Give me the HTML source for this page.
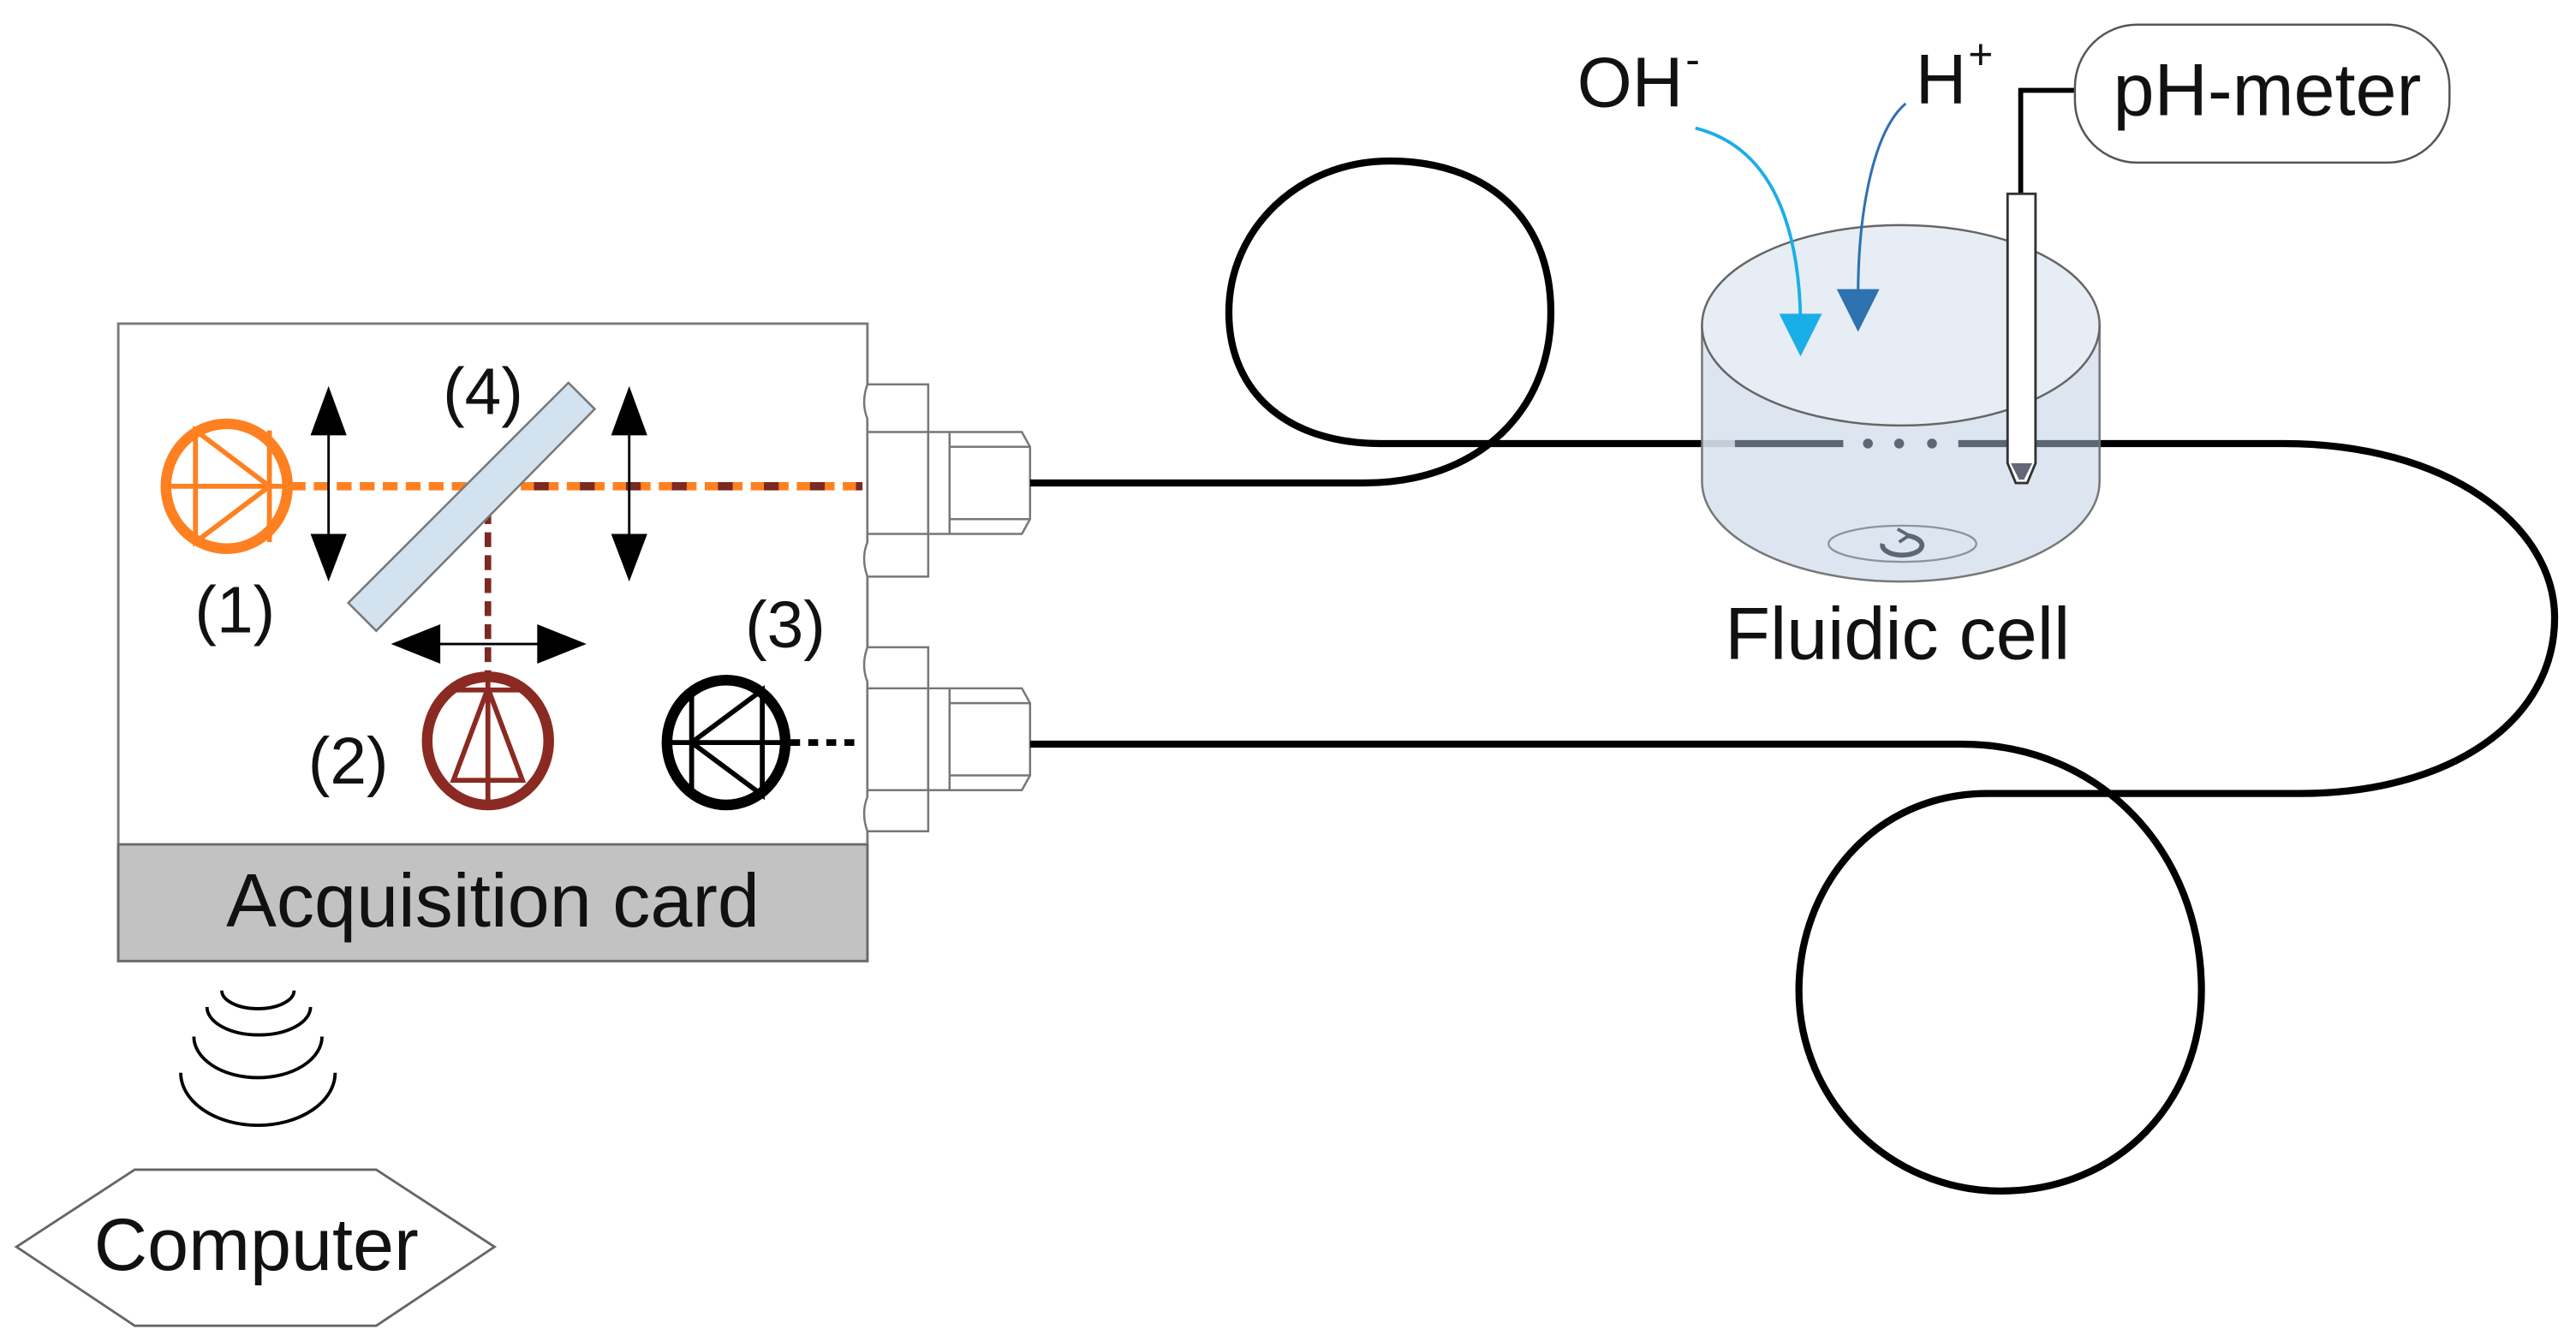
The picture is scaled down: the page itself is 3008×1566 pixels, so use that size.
<!DOCTYPE html>
<html><head><meta charset="utf-8"><style>
html,body{margin:0;padding:0;background:#fff;}
svg{display:block;}
text{font-family:"Liberation Sans",Arial,sans-serif;fill:#111;}
</style></head><body>
<svg width="3008" height="1566" viewBox="0 0 1568 816.3" preserveAspectRatio="none" xmlns="http://www.w3.org/2000/svg">
<rect x="72" y="197" width="456" height="388" fill="#fff" stroke="#7a7a7a" stroke-width="1.5"/>
<rect x="72" y="514" width="456" height="71" fill="#c2c2c2" stroke="#6a6a6a" stroke-width="1.5"/>
<text x="300" y="564" font-size="46" text-anchor="middle">Acquisition card</text>

<g fill="#fff" stroke="#777" stroke-width="1.3">
 <path d="M528 234 L565 234 L565 351 L528 351 Q524 340 528 330 L528 255 Q524 245 528 234 Z"/>
 <line x1="528" y1="263" x2="565" y2="263"/><line x1="528" y1="325" x2="565" y2="325"/>
 <path d="M565 263 L622 263 L627 272 L627 316 L622 325 L565 325 Z"/>
 <line x1="578" y1="263" x2="578" y2="325"/><line x1="578" y1="272" x2="627" y2="272"/><line x1="578" y1="316" x2="627" y2="316"/>
 <path d="M528 394 L565 394 L565 506 L528 506 Q524 495 528 485 L528 415 Q524 405 528 394 Z"/>
 <line x1="528" y1="419" x2="565" y2="419"/><line x1="528" y1="481" x2="565" y2="481"/>
 <path d="M565 419 L622 419 L627 428 L627 472 L622 481 L565 481 Z"/>
 <line x1="578" y1="419" x2="578" y2="481"/><line x1="578" y1="428" x2="627" y2="428"/><line x1="578" y1="472" x2="627" y2="472"/>
</g>

<path d="M627 294 L830 294 C900 294 944 250 944 190 C944 130 902 98 846 98 C790 98 748 140 748 190 C748 240 785 270 840 270 L1056 270" fill="none" stroke="#000" stroke-width="4.3"/>
<path d="M1278 270 L1390 270 C1490 270 1555 320 1555 376 C1555 440 1490 483 1400 483 L1210 483 C1140 483 1095 540 1095 603 C1095 670 1150 725 1218 725 C1290 725 1340 670 1340 603 C1340 520 1280 453 1194 453 L627 453" fill="none" stroke="#000" stroke-width="4.3"/>

<path d="M1036 198 L1036 293 A121 61 0 0 0 1278 293 L1278 198 Z" fill="#d9e3ee" fill-opacity="0.9" stroke="#777" stroke-width="1.3"/>
<ellipse cx="1157" cy="198" rx="121" ry="61" fill="#e7edf4" stroke="#666" stroke-width="1.3"/>
<line x1="1056" y1="270" x2="1122" y2="270" stroke="#5b6775" stroke-width="4.3"/>
<g fill="#5b6775"><circle cx="1137" cy="270" r="3"/><circle cx="1156" cy="270" r="3"/><circle cx="1176" cy="270" r="3"/></g>
<line x1="1192" y1="270" x2="1278" y2="270" stroke="#5b6775" stroke-width="4.3"/>
<ellipse cx="1158" cy="331" rx="45" ry="11" fill="none" stroke="#8a95a0" stroke-width="1.2"/>
<path d="M1146 331 A12 6 0 1 0 1160 326" fill="none" stroke="#5b6775" stroke-width="3"/>
<path d="M1155 322 L1162 326 L1156 330" fill="none" stroke="#5b6775" stroke-width="2"/>
<text x="1155" y="401" font-size="45" text-anchor="middle">Fluidic cell</text>

<path d="M1263 55 L1230 55 L1230 118" fill="none" stroke="#000" stroke-width="3"/>
<path d="M1222 118 L1239 118 L1239 282 L1234 294 L1227 294 L1222 282 Z" fill="#fff" stroke="#333" stroke-width="1.5"/>
<path d="M1224 282 L1237 282 L1232 292 L1229 292 Z" fill="#667"/>
<rect x="1263" y="15" width="228" height="84" rx="38" fill="#fff" stroke="#555" stroke-width="1.3"/>
<text x="1380" y="70" font-size="45" text-anchor="middle">pH-meter</text>

<text x="960" y="65" font-size="43">OH</text><text x="1026" y="45" font-size="26">-</text>
<text x="1166" y="63" font-size="43">H</text><text x="1198" y="42" font-size="26">+</text>
<path d="M1032 78 C1080 90 1095 140 1096 195" fill="none" stroke="#1aaee8" stroke-width="2"/>
<path d="M1083 191 L1109 191 L1096 217 Z" fill="#1aaee8"/>
<path d="M1160 63 C1140 80 1131 130 1131 180" fill="none" stroke="#2e72b0" stroke-width="1.6"/>
<path d="M1118 176 L1144 176 L1131 202 Z" fill="#2e72b0"/>

<line x1="177" y1="296" x2="525" y2="296" stroke="#ff8021" stroke-width="5" stroke-dasharray="9 5"/>
<line x1="297" y1="296" x2="525" y2="296" stroke="#7a2a22" stroke-width="5" stroke-dasharray="9 19"/>
<line x1="297" y1="296" x2="297" y2="412" stroke="#7a2a22" stroke-width="4" stroke-dasharray="9 5"/>
<line x1="481" y1="452" x2="525" y2="452" stroke="#000" stroke-width="4" stroke-dasharray="6 5"/>

<path d="M212 367 L346 233 L362 249 L229 384 Z" fill="#d3e2ef" stroke="#777" stroke-width="1.3"/>

<g fill="#000" stroke="#000">
 <line x1="200" y1="255" x2="200" y2="335" stroke-width="1.5"/>
 <path d="M189 265 L211 265 L200 235 Z M189 325 L211 325 L200 354 Z" stroke="none"/>
 <line x1="383" y1="255" x2="383" y2="335" stroke-width="1.5"/>
 <path d="M372 265 L394 265 L383 235 Z M372 325 L394 325 L383 354 Z" stroke="none"/>
 <line x1="255" y1="392" x2="340" y2="392" stroke-width="1.5"/>
 <path d="M268 380 L268 404 L238 392 Z M327 380 L327 404 L357 392 Z" stroke="none"/>
</g>

<g fill="none" stroke="#ff8021">
 <ellipse cx="138" cy="296" rx="37" ry="38" stroke-width="6.5"/>
 <line x1="101" y1="296" x2="177" y2="296" stroke-width="3"/>
 <path d="M119 262 L119 330 L164 296 Z" stroke-width="3"/>
 <line x1="164" y1="262" x2="164" y2="330" stroke-width="3"/>
</g>
<g fill="none" stroke="#8b2a22">
 <ellipse cx="297" cy="451" rx="37" ry="39" stroke-width="6.5"/>
 <line x1="297" y1="412" x2="297" y2="490" stroke-width="3"/>
 <path d="M276 475 L318 475 L297 419 Z" stroke-width="3"/>
 <line x1="272" y1="420" x2="322" y2="420" stroke-width="3"/>
</g>
<g fill="none" stroke="#000">
 <ellipse cx="442" cy="452" rx="36" ry="38" stroke-width="6.5"/>
 <line x1="406" y1="452" x2="481" y2="452" stroke-width="3"/>
 <path d="M464 420 L464 484 L421 452 Z" stroke-width="3"/>
 <line x1="421" y1="420" x2="421" y2="484" stroke-width="3"/>
</g>

<text x="143" y="385" font-size="40" text-anchor="middle">(1)</text>
<text x="212" y="477" font-size="40" text-anchor="middle">(2)</text>
<text x="478" y="394" font-size="40" text-anchor="middle">(3)</text>
<text x="294" y="252" font-size="40" text-anchor="middle">(4)</text>

<g fill="none" stroke="#000" stroke-width="2">
 <path d="M135 603 A22 11 0 0 0 179 603"/>
 <path d="M126 613 A31.5 17 0 0 0 189 613"/>
 <path d="M118 631 A39 25 0 0 0 196 631"/>
 <path d="M110 653 A47 32 0 0 0 204 653"/>
</g>

<path d="M10 759 L82 712 L229 712 L301 759 L229 807 L82 807 Z" fill="#fff" stroke="#666" stroke-width="1.5"/>
<text x="156" y="773" font-size="45" text-anchor="middle">Computer</text>
</svg>
</body></html>
